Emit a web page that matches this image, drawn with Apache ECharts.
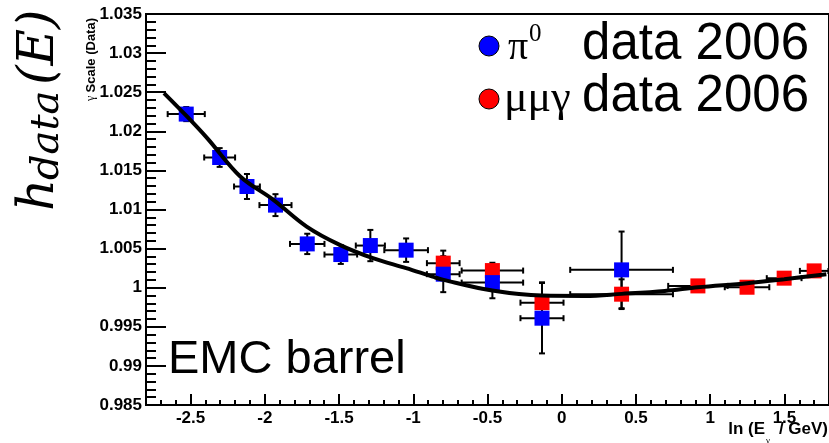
<!DOCTYPE html>
<html>
<head>
<meta charset="utf-8">
<script src="https://cdn.jsdelivr.net/npm/echarts@6/dist/echarts.min.js"></script>
<style>
html,body{margin:0;padding:0;background:#fff;}
#chart{width:829px;height:443px;}
</style>
</head>
<body>
<div id="chart"></div>
<script>
// ---- data ----
const piX    = [-2.529, -2.304, -2.120, -1.928, -1.714, -1.488, -1.289, -1.048, -0.798, -0.467, -0.133, 0.403];
const piY    = [1.0222, 1.01665, 1.01294, 1.01056, 1.0056, 1.00424, 1.00539, 1.0048, 1.00173, 1.00065, 0.9961, 1.00228];
const piXErr = [0.125, 0.104, 0.087, 0.108, 0.116, 0.110, 0.098, 0.147, 0.110, 0.207, 0.145, 0.346];
const piYErr = [0.0009, 0.0012, 0.0016, 0.0014, 0.0013, 0.0012, 0.0020, 0.0015, 0.0023, 0.0020, 0.0045, 0.0049];

const mmgX    = [-0.798, -0.467, -0.133, 0.403, 0.917, 1.248, 1.498, 1.700];
const mmgY    = [1.00314, 1.00219, 0.99809, 0.99917, 1.00023, 1.00006, 1.00122, 1.00215];
const mmgXErr = [0.110, 0.207, 0.145, 0.346, 0.200, 0.150, 0.117, 0.096];
const mmgYErr = [0.0016, 0.0010, 0.0026, 0.0019, 0.0005, 0.0005, 0.0006, 0.0005];

const fitX = [-2.679, -2.529, -2.388, -2.165, -1.942, -1.718, -1.495, -1.272, -1.048, -0.870, -0.796, -0.468, -0.133, 0.158, 0.403, 0.694, 0.917, 1.248, 1.498, 1.782];
const fitY = [1.02489, 1.0220, 1.01913, 1.01422, 1.01124, 1.00782, 1.00548, 1.00378, 1.0025, 1.00142, 1.0010, 0.99963, 0.99899, 0.99895, 0.99921, 0.99959, 1.00006, 1.00058, 1.00109, 1.00173];

const xTicks = [-2.5, -2, -1.5, -1, -0.5, 0, 0.5, 1, 1.5];
const xMin = -2.8, xMax = 1.8;
const yMin = 0.985, yMax = 1.035, yStep = 0.005;

const legendLabels = ['data 2006', 'data 2006'];
const legendSymbols = ['\u03c0', '\u03bc\u03bc\u03b3'];

// ---- build ----
const errRows = [];
piX.forEach((x, i) => errRows.push([x, piY[i], piXErr[i], piYErr[i]]));
mmgX.forEach((x, i) => errRows.push([x, mmgY[i], mmgXErr[i], mmgYErr[i]]));

const fmt = v => String(+(+v).toFixed(3));
const tickFont = {color:'#000', fontFamily:'Liberation Sans', fontWeight:'bold', fontSize:17};

const chart = echarts.init(document.getElementById('chart'), null, {renderer:'canvas'});
const cap = 3;
chart.setOption({
  animation: false,
  backgroundColor: '#fff',
  grid: {left:146, top:14, right:-3, bottom:38, show:true, borderColor:'#000', borderWidth:2, backgroundColor:'transparent'},
  xAxis: [{
    type:'value', min:xMin, max:xMax,
    axisLine:{show:true, onZero:false, lineStyle:{color:'#000', width:2}},
    axisTick:{show:true, inside:true, length:11, customValues:xTicks, lineStyle:{color:'#000', width:2}},
    axisLabel:{show:true, margin:5, customValues:xTicks, formatter:fmt, ...tickFont},
    splitLine:{show:false}
  },{
    type:'value', min:xMin, max:xMax, interval:0.1, position:'bottom',
    axisLine:{show:false, onZero:false},
    axisTick:{show:true, inside:true, length:5, lineStyle:{color:'#000', width:2}},
    axisLabel:{show:false},
    splitLine:{show:false}
  }],
  yAxis: {
    type:'value', min:yMin, max:yMax, interval:yStep,
    axisLine:{show:true, onZero:false, lineStyle:{color:'#000', width:2}},
    axisTick:{show:true, inside:true, length:20, lineStyle:{color:'#000', width:2}},
    minorTick:{show:true, splitNumber:5, length:10, lineStyle:{color:'#000', width:2}},
    axisLabel:{show:true, margin:4, formatter:fmt, ...tickFont},
    splitLine:{show:false}
  },
  series: [
    {
      type:'custom', xAxisIndex:0, yAxisIndex:0, data: errRows, encode:{x:0, y:1},
      renderItem: function(params, api){
        const x = api.value(0), y = api.value(1), ex = api.value(2), ey = api.value(3);
        const l = api.coord([x-ex, y]), r = api.coord([x+ex, y]);
        const t = api.coord([x, y+ey]), b = api.coord([x, y-ey]);
        const st = {stroke:'#000', lineWidth:2};
        return {type:'group', children:[
          {type:'line', shape:{x1:l[0], y1:l[1], x2:r[0], y2:r[1]}, style:st},
          {type:'line', shape:{x1:t[0], y1:t[1], x2:b[0], y2:b[1]}, style:st},
          {type:'line', shape:{x1:l[0], y1:l[1]-cap, x2:l[0], y2:l[1]+cap}, style:st},
          {type:'line', shape:{x1:r[0], y1:r[1]-cap, x2:r[0], y2:r[1]+cap}, style:st},
          {type:'line', shape:{x1:t[0]-cap, y1:t[1], x2:t[0]+cap, y2:t[1]}, style:st},
          {type:'line', shape:{x1:b[0]-cap, y1:b[1], x2:b[0]+cap, y2:b[1]}, style:st}
        ]};
      }
    },
    {type:'scatter', name:'mmg', symbol:'rect', symbolSize:15, itemStyle:{color:'#ff0000', opacity:1},
     data: mmgX.map((x,i)=>[x, mmgY[i]])},
    {type:'scatter', name:'pi0', symbol:'rect', symbolSize:15, itemStyle:{color:'#0000ff', opacity:1},
     data: piX.map((x,i)=>[x, piY[i]])},
    {type:'line', name:'fit', showSymbol:false, smooth:0.35, lineStyle:{color:'#000', width:4},
     data: fitX.map((x,i)=>[x, fitY[i]])}
  ],
  graphic: [
    // legend
    {type:'circle', shape:{cx:489, cy:46, r:10}, style:{fill:'#0000ff', stroke:'#000', lineWidth:1}},
    {type:'circle', shape:{cx:489, cy:99, r:10}, style:{fill:'#ff0000', stroke:'#000', lineWidth:1}},
    {type:'text', x:508, y:48, style:{text:legendSymbols[0], font:'40px "Liberation Serif"', fill:'#000', textAlign:'left', textVerticalAlign:'middle'}},
    {type:'text', x:529, y:34, style:{text:'0', font:'25px "Liberation Serif"', fill:'#000', textAlign:'left', textVerticalAlign:'middle'}},
    {type:'text', x:504, y:99, style:{text:legendSymbols[1], font:'44px "Liberation Serif"', fill:'#000', textAlign:'left', textVerticalAlign:'middle'}},
    {type:'text', x:809, y:45, style:{text:legendLabels[0], font:'51px "Liberation Sans"', fill:'#000', textAlign:'right', textVerticalAlign:'middle'}},
    {type:'text', x:809, y:97, style:{text:legendLabels[1], font:'51px "Liberation Sans"', fill:'#000', textAlign:'right', textVerticalAlign:'middle'}},
    // EMC barrel
    {type:'text', x:168, y:360, style:{text:'EMC barrel', font:'47px "Liberation Sans"', fill:'#000', textAlign:'left', textVerticalAlign:'middle'}},
    // y titles
    {type:'text', x:91, y:18, rotation:Math.PI/2, style:{text:'{g|\u03b3} {s|Scale (Data)}', textAlign:'right', textVerticalAlign:'middle',
      rich:{g:{font:'12px "Liberation Serif"', fill:'#000'}, s:{font:'bold 13px "Liberation Sans"', fill:'#000'}}}},
    {type:'text', x:40, y:211, rotation:Math.PI/2, style:{text:'h', font:'italic 50px "DejaVu Serif"', fill:'#000', textAlign:'left', textVerticalAlign:'middle'}},
    {type:'text', x:48, y:180, rotation:Math.PI/2, style:{text:'data', font:'italic 40px "DejaVu Serif"', fill:'#000', textAlign:'left', textVerticalAlign:'middle'}},
    {type:'text', x:40, y:85, rotation:Math.PI/2, style:{text:'(E)', font:'italic 50px "DejaVu Serif"', fill:'#000', textAlign:'left', textVerticalAlign:'middle'}},
    // x title
    {type:'text', x:765, y:429, style:{text:'ln (E', font:'bold 17px "Liberation Sans"', fill:'#000', textAlign:'right', textVerticalAlign:'middle'}},
    {type:'text', x:768, y:441, style:{text:'\u03b3', font:'9px "Liberation Serif"', fill:'#000', textAlign:'center', textVerticalAlign:'middle'}},
    {type:'text', x:828, y:429, style:{text:'/ GeV)', font:'bold 17px "Liberation Sans"', fill:'#000', textAlign:'right', textVerticalAlign:'middle'}}
  ]
});
</script>
</body>
</html>
